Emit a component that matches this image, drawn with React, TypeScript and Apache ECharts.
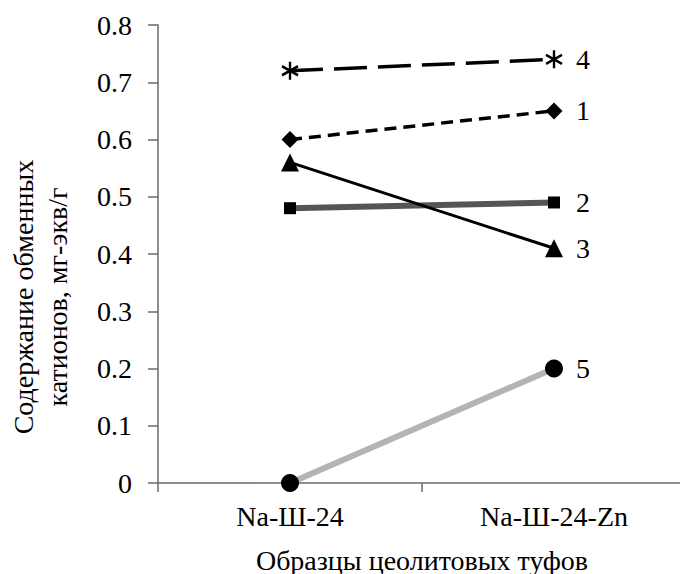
import React, { useEffect, useRef } from "react";
import * as echarts from "echarts";

const categories = ["Na-Ш-24", "Na-Ш-24-Zn"];
const yTicks = { min: 0, max: 0.8, interval: 0.1 };
const series1 = [0.6, 0.65];
const series2 = [0.48, 0.49];
const series3 = [0.56, 0.41];
const series4 = [0.72, 0.74];
const series5 = [0, 0.2];
const seriesNames = ["1", "2", "3", "4", "5"];
const xAxisTitle = "Образцы цеолитовых туфов";
const yAxisTitle = "Содержание обменных\nкатионов, мг-экв/г";

const FONT = "Liberation Serif";
const FS = 28;
const ASTERISK = "path://M0,-10L0,10M-8.7,-5L8.7,5M-8.7,5L8.7,-5";

export default function App() {
  const ref = useRef<HTMLDivElement>(null);
  useEffect(() => {
    if (!ref.current) return;
    const chart = echarts.init(ref.current, null, { renderer: "svg" });
    const endLabel = (name: string) => ({
      show: true,
      formatter: name,
      distance: 22,
      color: "#000",
      fontFamily: FONT,
      fontSize: FS,
    });
    chart.setOption({
      animation: false,
      backgroundColor: "#fff",
      textStyle: { fontFamily: FONT },
      grid: {
        left: 158,
        top: 25,
        width: 528,
        height: 458,
        containLabel: false,
        outerBoundsMode: "none",
      },
      xAxis: {
        type: "category",
        data: categories,
        boundaryGap: true,
        axisLine: { lineStyle: { color: "#6a6a6a", width: 1.5 } },
        axisTick: { show: true, length: 9, lineStyle: { color: "#6a6a6a", width: 1.5 } },
        axisLabel: { color: "#000", fontFamily: FONT, fontSize: FS, margin: 19 },
        splitLine: { show: false },
        name: xAxisTitle,
        nameLocation: "middle",
        nameGap: 63,
        nameTextStyle: { color: "#000", fontFamily: FONT, fontSize: FS },
      },
      yAxis: {
        type: "value",
        min: yTicks.min,
        max: yTicks.max,
        interval: yTicks.interval,
        axisLine: { show: true, lineStyle: { color: "#6a6a6a", width: 1.5 } },
        axisTick: { show: true, length: 10, lineStyle: { color: "#6a6a6a", width: 1.5 } },
        axisLabel: { color: "#000", fontFamily: FONT, fontSize: FS, margin: 26 },
        splitLine: { show: false },
      },
      graphic: [
        {
          type: "text",
          x: 40,
          y: 297,
          rotation: Math.PI / 2,
          style: {
            text: yAxisTitle,
            fill: "#000",
            fontFamily: FONT,
            fontSize: FS,
            lineHeight: 34,
            align: "center",
            verticalAlign: "middle",
          },
        },
      ],
      series: [
        {
          name: seriesNames[4],
          type: "line",
          data: series5,
          symbol: "circle",
          symbolSize: 18,
          lineStyle: { color: "#b4b4b4", width: 6 },
          itemStyle: { color: "#000" },
          endLabel: endLabel(seriesNames[4]),
          z: 2,
        },
        {
          name: seriesNames[1],
          type: "line",
          data: series2,
          symbol: "rect",
          symbolSize: 12,
          lineStyle: { color: "#555555", width: 6 },
          itemStyle: { color: "#000" },
          endLabel: endLabel(seriesNames[1]),
          z: 3,
        },
        {
          name: seriesNames[2],
          type: "line",
          data: series3,
          symbol: "triangle",
          symbolSize: 18,
          lineStyle: { color: "#000", width: 3 },
          itemStyle: { color: "#000" },
          endLabel: endLabel(seriesNames[2]),
          z: 4,
        },
        {
          name: seriesNames[0],
          type: "line",
          data: series1,
          symbol: "diamond",
          symbolSize: 17,
          lineStyle: { color: "#000", width: 3.5, type: [12, 7] },
          itemStyle: { color: "#000" },
          endLabel: endLabel(seriesNames[0]),
          z: 4,
        },
        {
          name: seriesNames[3],
          type: "line",
          data: series4,
          symbol: ASTERISK,
          symbolSize: [16, 18],
          lineStyle: { color: "#000", width: 3.5, type: [33, 11] },
          itemStyle: { color: "#000", borderColor: "#000", borderWidth: 2.5 },
          endLabel: endLabel(seriesNames[3]),
          z: 4,
        },
      ],
    });
    return () => chart.dispose();
  }, []);
  return (
    <div
      ref={ref}
      style={{ position: "fixed", left: 0, top: 0, width: 680, height: 574 }}
    />
  );
}
